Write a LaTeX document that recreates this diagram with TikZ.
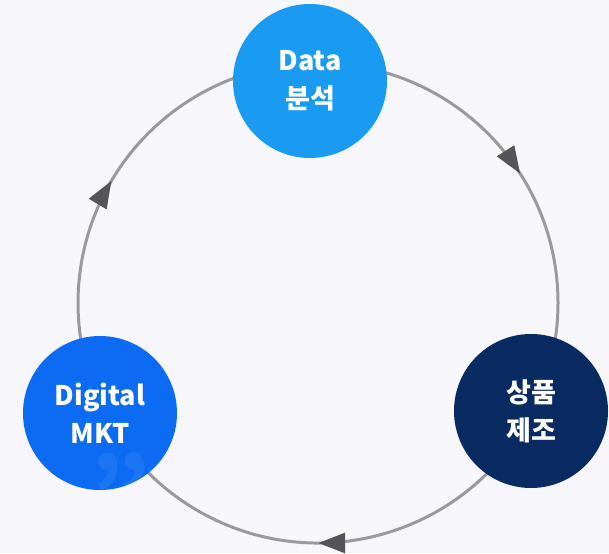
\documentclass[tikz,border=0pt]{standalone}
\usepackage{fontspec}
\newfontfamily\kr{Noto Sans CJK KR}
\usetikzlibrary{arrows.meta,decorations.markings}
\definecolor{bgc}{HTML}{F6F6FB}
\definecolor{datac}{HTML}{1A9BF2}
\definecolor{digic}{HTML}{0B6BF2}
\definecolor{prodc}{HTML}{0A2A62}
\definecolor{ringc}{HTML}{9A9A9E}
\definecolor{tipc}{HTML}{555558}
\tikzset{
  stage/.style={circle, minimum size=154pt, inner sep=0pt, text=white,
    font=\kr\bfseries\fontsize{27pt}{38pt}\selectfont, align=center},
  ring/.style={draw=ringc, line width=3pt,
    postaction={decorate, decoration={markings,
      mark=at position 0.5 with {\arrow{Triangle[length=27pt,width=20pt,color=tipc]}}}}},
}
\begin{document}
\begin{tikzpicture}[x=1pt,y=1pt]
\fill[bgc] (0,0) rectangle (609,553);
\useasboundingbox (0,0) rectangle (609,553);
\coordinate (C) at (318,250);
% connectors (arcs between the stages)
\coordinate (a1) at ([shift={(92:240)}]C);
\coordinate (a2) at ([shift={(-26.7:240)}]C);
\coordinate (a3) at ([shift={(206.8:240)}]C);
\draw[ring] (a1) arc[start angle=92, end angle=-26.7, radius=240];
\draw[ring] (a2) arc[start angle=-26.7, end angle=-153.2, radius=240];
\draw[ring] (a3) arc[start angle=206.8, end angle=92, radius=240];
% stages
\node[stage, fill=datac] (data) at (310,472) {Data\\분석};
\node[stage, fill=prodc] (prod) at (531,142) {상품\\제조};
\node[stage, fill=digic] (digi) at (100,140) {Digital\\MKT};
\node[text=white, opacity=0.07, inner sep=0pt, font=\kr\bfseries\fontsize{95pt}{95pt}\selectfont] (quote) at (120,62) {”};
\end{tikzpicture}
\end{document}
